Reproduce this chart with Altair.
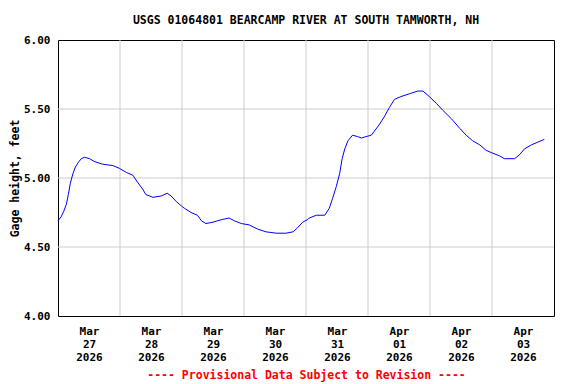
import altair as alt
import pandas as pd

times = [
    "2026-03-27T00:00", "2026-03-27T01:15", "2026-03-27T02:15", "2026-03-27T03:15",
    "2026-03-27T04:00", "2026-03-27T04:45", "2026-03-27T05:45", "2026-03-27T06:45",
    "2026-03-27T07:45", "2026-03-27T09:00", "2026-03-27T10:15", "2026-03-27T12:15",
    "2026-03-27T14:00", "2026-03-27T17:15", "2026-03-27T21:15", "2026-03-27T23:45",
    "2026-03-28T02:30", "2026-03-28T05:00", "2026-03-28T06:45", "2026-03-28T08:45",
    "2026-03-28T10:00", "2026-03-28T12:45", "2026-03-28T16:00", "2026-03-28T18:15",
    "2026-03-28T19:45", "2026-03-28T21:45", "2026-03-29T00:15", "2026-03-29T01:00",
    "2026-03-29T03:30", "2026-03-29T06:00", "2026-03-29T07:30", "2026-03-29T09:15",
    "2026-03-29T12:00", "2026-03-29T13:45", "2026-03-29T15:45", "2026-03-29T18:15",
    "2026-03-29T20:15", "2026-03-29T23:00", "2026-03-30T02:00", "2026-03-30T05:15",
    "2026-03-30T08:30", "2026-03-30T12:30", "2026-03-30T16:15", "2026-03-30T19:00",
    "2026-03-30T20:45", "2026-03-30T22:45", "2026-03-31T00:45", "2026-03-31T01:15",
    "2026-03-31T04:00", "2026-03-31T07:15", "2026-03-31T09:00", "2026-03-31T10:15",
    "2026-03-31T11:45", "2026-03-31T13:00", "2026-03-31T14:00", "2026-03-31T15:00",
    "2026-03-31T16:15", "2026-03-31T18:00", "2026-03-31T20:00", "2026-03-31T21:30",
    "2026-03-31T23:15", "2026-04-01T01:15", "2026-04-01T02:30", "2026-04-01T04:30",
    "2026-04-01T06:30", "2026-04-01T08:15", "2026-04-01T10:15", "2026-04-01T12:45",
    "2026-04-01T16:00", "2026-04-01T19:15", "2026-04-01T21:15", "2026-04-01T23:45",
    "2026-04-02T02:30", "2026-04-02T05:00", "2026-04-02T08:15", "2026-04-02T11:30",
    "2026-04-02T14:00", "2026-04-02T16:30", "2026-04-02T19:15", "2026-04-02T21:45",
    "2026-04-03T00:15", "2026-04-03T03:00", "2026-04-03T04:45", "2026-04-03T08:45",
    "2026-04-03T10:45", "2026-04-03T12:30", "2026-04-03T15:15", "2026-04-03T17:45",
    "2026-04-03T20:15",
]
gage_ft = [
    4.69, 4.72, 4.76, 4.81,
    4.88, 4.96, 5.03, 5.08,
    5.11, 5.14, 5.15, 5.14,
    5.12, 5.10, 5.09, 5.07,
    5.04, 5.02, 4.97, 4.92,
    4.88, 4.86, 4.87, 4.89,
    4.87, 4.83, 4.79, 4.78,
    4.75, 4.73, 4.69, 4.67,
    4.68, 4.69, 4.70, 4.71,
    4.69, 4.67, 4.66, 4.63,
    4.61, 4.60, 4.60, 4.61,
    4.64, 4.68, 4.70, 4.71,
    4.73, 4.73, 4.78, 4.85,
    4.94, 5.03, 5.14, 5.21,
    5.27, 5.31, 5.30, 5.29,
    5.30, 5.31, 5.34, 5.39,
    5.45, 5.51, 5.57, 5.59,
    5.61, 5.63, 5.63, 5.59,
    5.54, 5.49, 5.43, 5.36,
    5.31, 5.27, 5.24, 5.20,
    5.18, 5.16, 5.14, 5.14,
    5.17, 5.21, 5.24, 5.26,
    5.28,
]
grid_days = ["2026-03-28", "2026-03-29", "2026-03-30", "2026-03-31",
             "2026-04-01", "2026-04-02", "2026-04-03"]
label_days = [(3, 27), (3, 28), (3, 29), (3, 30), (3, 31), (4, 1), (4, 2), (4, 3)]
y_ticks = [4.0, 4.5, 5.0, 5.5, 6.0]
y_grid = [4.5, 5.0, 5.5]

FONT = "DejaVu Sans Mono"

df = pd.DataFrame({"t": times, "v": gage_ft})
gdf = pd.DataFrame({"t": [d + "T00:00" for d in grid_days]})
ygdf = pd.DataFrame({"v": y_grid})

xscale = alt.Scale(domain=[alt.DateTime(year=2026, month=3, date=27, hours=0),
                           alt.DateTime(year=2026, month=4, date=4, hours=0)])
yscale = alt.Scale(domain=[4, 6], nice=False, zero=False)
label_values = [alt.DateTime(year=2026, month=m, date=d, hours=12) for m, d in label_days]

xgrid = alt.Chart(gdf).mark_rule(color="#cccccc", strokeWidth=1).encode(
    x=alt.X("t:T", scale=xscale)
)
ygrid = alt.Chart(ygdf).mark_rule(color="#cccccc", strokeWidth=1).encode(
    y=alt.Y("v:Q", scale=yscale)
)

line = alt.Chart(df).mark_line(color="#0000ff", strokeWidth=1).encode(
    x=alt.X("t:T", scale=xscale,
            axis=alt.Axis(values=label_values, grid=False, ticks=False, domain=False,
                          labelExpr="[timeFormat(datum.value, '%b'), timeFormat(datum.value, '%d'), timeFormat(datum.value, '%Y')]",
                          labelFont=FONT, labelFontSize=11, labelFontWeight="bold",
                          labelColor="black", labelLineHeight=13, labelPadding=9,
                          labelAngle=0, labelAlign="center",
                          title="---- Provisional Data Subject to Revision ----",
                          titleFont=FONT, titleFontSize=11.5, titleFontWeight="bold",
                          titleColor="#ff0000", titlePadding=7)),
    y=alt.Y("v:Q", scale=yscale,
            axis=alt.Axis(values=y_ticks, format=".2f", grid=False,
                          ticks=False, domain=False,
                          labelFont=FONT, labelFontSize=11, labelFontWeight="bold",
                          labelColor="black", labelPadding=8,
                          title="Gage height, feet", titleFont=FONT, titleFontSize=11.5,
                          titleFontWeight="bold", titleColor="black", titlePadding=3)),
)

chart = alt.layer(xgrid, ygrid, line).properties(
    width=496, height=276,
    title=alt.TitleParams(
        text="USGS 01064801 BEARCAMP RIVER AT SOUTH TAMWORTH, NH",
        font=FONT, fontSize=11.5, fontWeight="bold", color="black",
        anchor="middle", frame="group", offset=8),
    autosize=alt.AutoSizeParams(type="none"),
    padding={"left": 50, "top": 32, "right": 14, "bottom": 68},
    view=alt.ViewBackground(stroke="black", strokeWidth=1, fill="white"),
).configure(
    background="white",
    view=alt.ViewConfig(stroke="black", strokeWidth=1),
)

chart.save("out.html", embed_options={"renderer": "svg", "actions": False})
